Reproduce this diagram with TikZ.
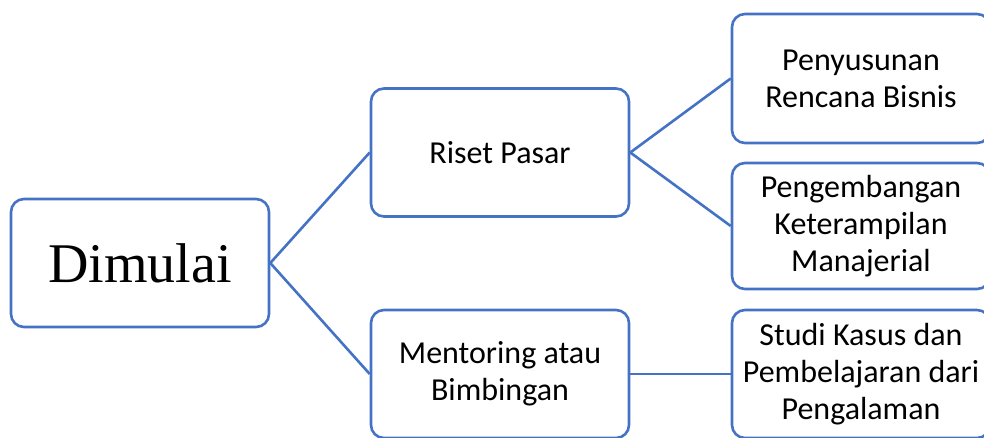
\documentclass[tikz,border=0pt]{standalone}
\usepackage{fontspec}
\setmainfont{Carlito}
\newfontfamily\serifbig{Liberation Serif}
\definecolor{boxblue}{HTML}{4472C4}
\begin{document}
\begin{tikzpicture}[x=1pt,y=-1pt,
  box/.style={draw=boxblue,line width=2.6pt,rounded corners=13pt,fill=white,
    minimum width=258pt,minimum height=128pt,align=center,inner sep=2pt,
    font=\fontsize{32}{37}\selectfont},
  link/.style={draw=boxblue,line width=2.6pt}]
\useasboundingbox (0,0) rectangle (984,437);
\clip (0,0) rectangle (984,437);
\node[box,font=\serifbig\fontsize{56}{64}\selectfont] (dim) at (140,263) {Dimulai};
\node[box,minimum height=128pt] (riset) at (500,152.5) {Riset Pasar};
\node[box] (ment) at (500,374) {Mentoring atau\\Bimbingan};
\node[box,minimum height=129pt] (peny) at (861,78.5) {Penyusunan\\Rencana Bisnis};
\node[box,minimum height=126pt] (peng) at (861,226) {Pengembangan\\Keterampilan\\Manajerial};
\node[box] (studi) at (861,374) {Studi Kasus dan\\Pembelajaran dari\\Pengalaman};
\draw[link] (dim.east) -- (riset.west);
\draw[link] (dim.east) -- (ment.west);
\draw[link] (riset.east) -- (peny.west);
\draw[link] (riset.east) -- (peng.west);
\draw[link] (ment.east) -- (studi.west);
\end{tikzpicture}
\end{document}
